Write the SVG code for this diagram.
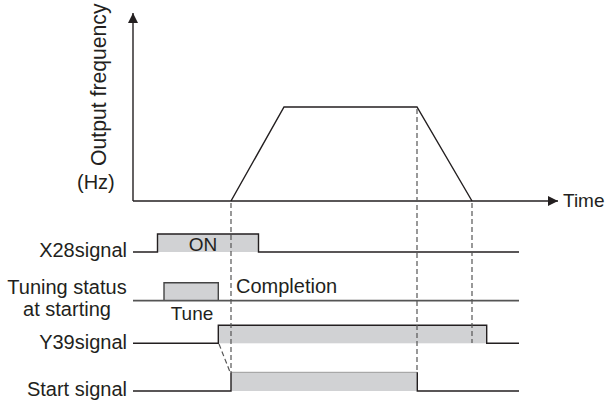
<svg xmlns="http://www.w3.org/2000/svg" width="607" height="401" viewBox="0 0 607 401">
<style>
text{font-family:"Liberation Sans",Arial,sans-serif;font-size:20px;fill:#231f20}
.sm{font-size:19px}
.ln{fill:none;stroke:#231f20;stroke-width:1.4}
.sig{fill:#d1d2d4;stroke:none}
.dash{fill:none;stroke:#555;stroke-width:1.2;stroke-dasharray:5,3}
</style>
<defs>
<marker id="arr" viewBox="0 0 10 10" refX="10" refY="5" markerWidth="11" markerHeight="10" markerUnits="userSpaceOnUse" orient="auto">
<path d="M0,0 L10,5 L0,10 z" fill="#231f20"/>
</marker>
</defs>
<g id="axes">
<line class="ln" x1="133" y1="201" x2="133" y2="13" marker-end="url(#arr)"/>
<line class="ln" x1="133" y1="201" x2="558" y2="201" marker-end="url(#arr)"/>
<text x="106" y="166" transform="rotate(-90 106 166)" style="font-size:21.2px">Output frequency</text>
<text x="77" y="189">(Hz)</text>
<text class="sm" x="563" y="207">Time</text>
</g>
<g id="frequency">
<polyline class="ln" points="231,201 284,107 417,107 472,201"/>
</g>
<g id="x28">
<rect class="sig" x="157.5" y="234" width="101" height="18"/>
<polyline class="ln" points="133,252 157.5,252 157.5,234 258.5,234 258.5,252 519,252"/>
<text x="127" y="257" text-anchor="end">X28signal</text>
<text class="sm" x="203" y="251" text-anchor="middle">ON</text>
</g>
<g id="tuning">
<rect class="sig" x="164" y="282.7" width="54.3" height="18"/>
<polyline fill="none" stroke="#444" stroke-width="1.4" points="164,300.7 164,282.7 218.3,282.7 218.3,300.7"/>
<line x1="133" y1="300.7" x2="519" y2="300.7" stroke="#555" stroke-width="1.8"/>
<text x="67" y="294" text-anchor="middle">Tuning status</text>
<text x="67" y="316" text-anchor="middle">at starting</text>
<text class="sm" x="192" y="319.5" text-anchor="middle">Tune</text>
<text x="236" y="292.5">Completion</text>
</g>
<g id="y39">
<rect class="sig" x="218.3" y="325.3" width="268.4" height="18"/>
<polyline class="ln" points="133,343.3 218.3,343.3 218.3,325.3 486.7,325.3 486.7,343.3 519,343.3"/>
<text x="127" y="349" text-anchor="end">Y39signal</text>
</g>
<g id="start">
<rect class="sig" x="231" y="372.3" width="186.3" height="18.7"/>
<line x1="231" y1="372.3" x2="417.3" y2="372.3" stroke="#9a9a9a" stroke-width="1"/>
<polyline class="ln" points="133,391 231,391 231,372.3"/>
<polyline class="ln" points="417.3,372.3 417.3,391 519,391"/>
<text x="127" y="396" text-anchor="end">Start signal</text>
</g>
<g id="connectors">
<line class="dash" x1="231" y1="203" x2="231" y2="372"/>
<line class="dash" x1="417" y1="109" x2="417" y2="372"/>
<line class="dash" x1="472" y1="203" x2="472" y2="343"/>
<line class="dash" x1="219" y1="344" x2="230" y2="372"/>
</g>
</svg>
